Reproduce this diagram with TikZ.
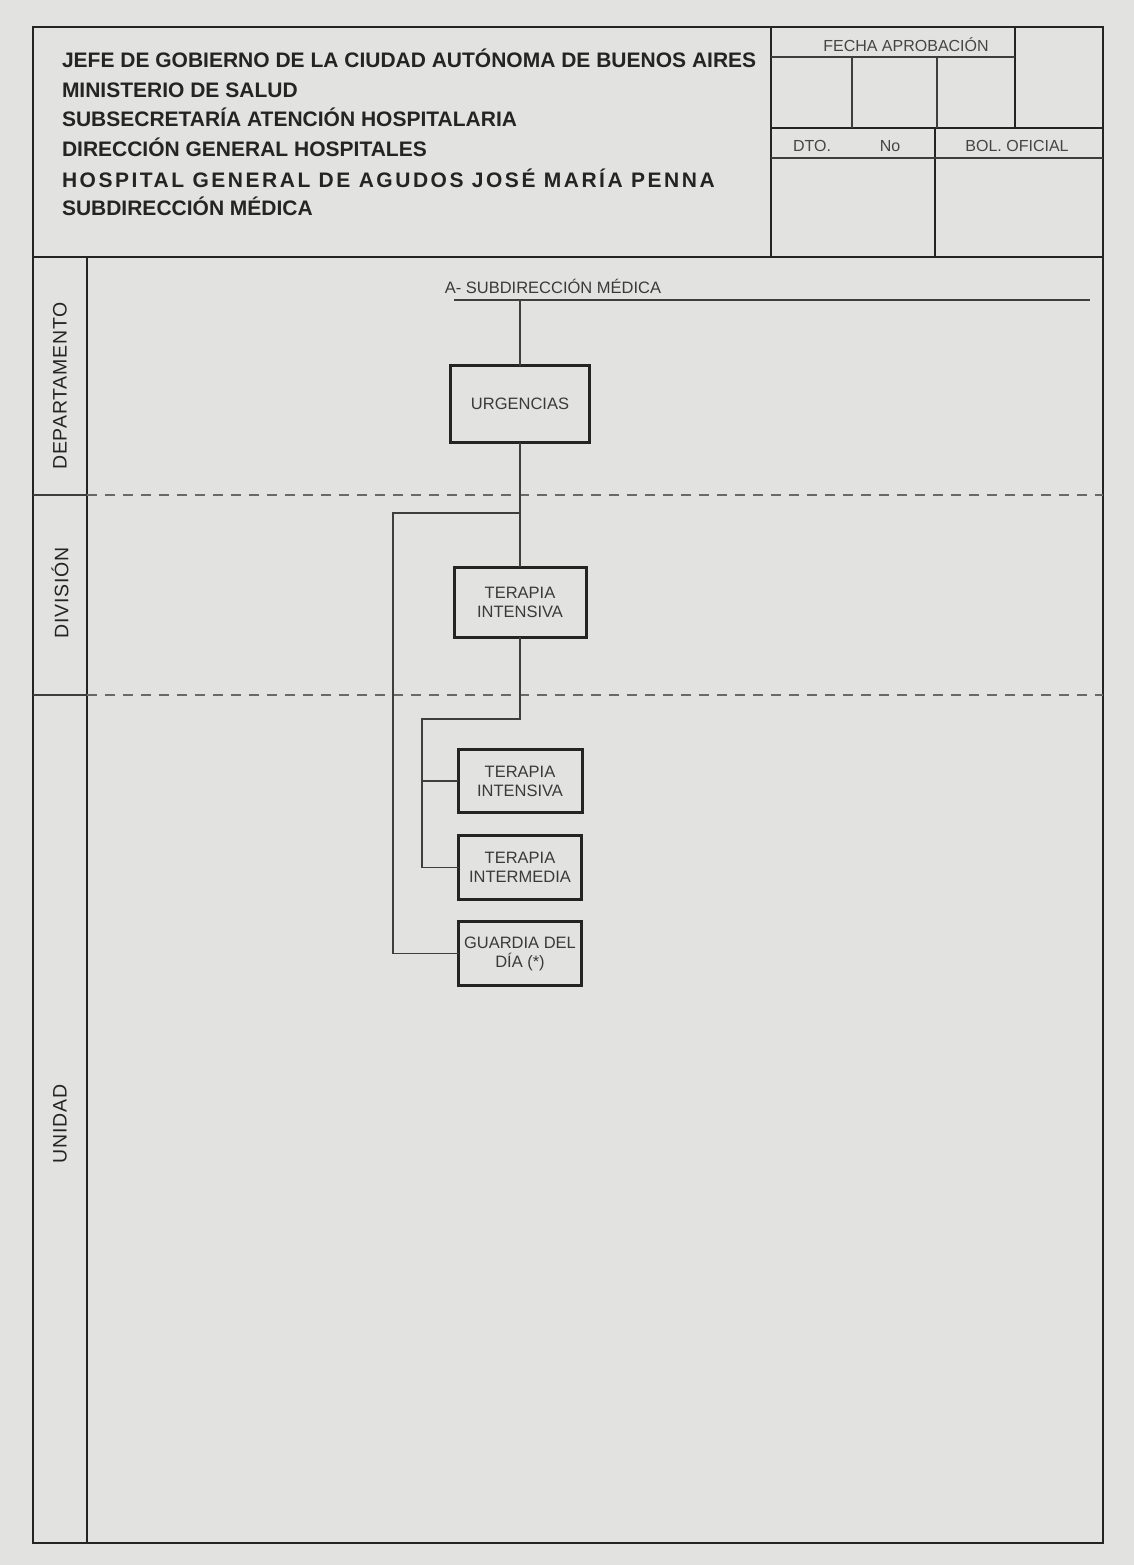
\documentclass[tikz,border=0pt]{standalone}
\usepackage{fontspec}
\setmainfont{Liberation Sans}
\usetikzlibrary{positioning}
\definecolor{papel}{RGB}{226,227,225}
\definecolor{tinta}{RGB}{36,36,36}
\definecolor{trazo}{RGB}{62,62,62}
\definecolor{gris}{RGB}{105,105,105}

\begin{document}
\begin{tikzpicture}[x=1pt, y=-1pt]
\tikzset{ inner sep=0pt, outer sep=0pt,
  marco/.style={draw=tinta, line width=2.6pt},
  fino/.style={draw=trazo, line width=1.3pt},
  guion/.style={draw=gris, line width=1.8pt, dash pattern=on 10pt off 8pt},
  conector/.style={draw=trazo, line width=1.4pt},
  caja/.style={draw=tinta, line width=3pt, fill=papel, align=center, text=tinta!90,
    font=\fontsize{16.5}{19}\selectfont},
  cabecera/.style={anchor=base west, text=tinta, font=\fontsize{21}{21}\selectfont\bfseries},
  cabecera ancha/.style={cabecera, font=\fontsize{21}{21}\selectfont\bfseries\addfontfeature{LetterSpace=12}},
  casilla/.style={text=tinta!85, font=\fontsize{16}{16}\selectfont},
  rotulo/.style={rotate=90, text=tinta, font=\fontsize{19.5}{20}\selectfont\addfontfeature{LetterSpace=4}},
  titulo/.style={text=tinta!90, font=\fontsize{16.5}{17}\selectfont},
}

\useasboundingbox (0,0) rectangle (1134,1565);
\fill [papel] (0,0) rectangle (1134,1565);

%\draw [lightgray, dashed](0,0) grid [step=50] (1134,1565);

\node [cabecera] (jefe) at (62,68) {JEFE DE GOBIERNO DE LA CIUDAD AUTÓNOMA DE BUENOS AIRES};
\node [cabecera] (min) at (62,98) {MINISTERIO DE SALUD};
\node [cabecera] (subsec) at (62,127) {SUBSECRETARÍA ATENCIÓN HOSPITALARIA};
\node [cabecera] (dir) at (62,157) {DIRECCIÓN GENERAL HOSPITALES};
\node [cabecera ancha] (hosp) at (62,187) {HOSPITAL GENERAL DE AGUDOS JOSÉ MARÍA PENNA};
\node [cabecera] (subdir) at (62,215) {SUBDIRECCIÓN MÉDICA};

\draw [marco] (33,27) rectangle (1103,1543);
\draw [marco] (33,257) -- (1103,257);
\draw [marco] (771,27) -- (771,257);
\draw [marco] (771,128) -- (1103,128);
\draw [marco] (1015,27) -- (1015,128);
\draw [marco] (935,128) -- (935,257);
\draw [fino] (771,57) -- (1015,57);
\draw [fino] (852,57) -- (852,128);
\draw [fino] (937,57) -- (937,128);
\draw [fino] (771,158) -- (1103,158);

\node [casilla] (fecha) at (906,45) {FECHA APROBACIÓN};
\node [casilla] (dto) at (812,146) {DTO.};
\node [casilla] (num) at (890,146) {No};
\node [casilla] (bol) at (1017,146) {BOL. OFICIAL};

\draw [marco] (87,257) -- (87,1543);
\draw [fino] (33,495) -- (87,495);
\draw [fino] (33,695) -- (87,695);
\draw [guion] (87,495) -- (1103,495);
\draw [guion] (87,695) -- (1103,695);

\node [rotulo] (dep) at (60,386) {DEPARTAMENTO};
\node [rotulo] (div) at (60,593) {DIVISIÓN};
\node [rotulo] (uni) at (60,1124) {UNIDAD};

\node [titulo] (sub) at (553,286) {A- SUBDIRECCIÓN MÉDICA};
\coordinate (raya0) at (454,300);
\coordinate (raya1) at (1090,300);
\coordinate (raiz) at (520,300);
\draw [conector] (raya0) -- (raya1);

\node [caja, minimum width=139pt, minimum height=77pt] (urg) at (520,404) {URGENCIAS};
\node [caja, minimum width=132pt, minimum height=70pt] (ti) at (520,602) {TERAPIA\\INTENSIVA};
\node [caja, minimum width=124pt, minimum height=63pt] (tint) at (520,781) {TERAPIA\\INTENSIVA};
\node [caja, minimum width=123pt, minimum height=64pt, below=23pt of tint] (tinm) {TERAPIA\\INTERMEDIA};
\node [caja, minimum width=123pt, minimum height=64pt, below=22pt of tinm] (gua) {GUARDIA DEL\\DÍA (*)};

\coordinate (rama1) at (520,513);
\coordinate (rama2) at (422,719);

\draw [conector] (raiz) -- (urg.north);
\draw [conector] (urg.south) -- (ti.north);
\draw [conector] (rama1) -- ++(-127,0) |- (gua.west);
\draw [conector] (ti.south) |- (rama2) |- (tint.west);
\draw [conector] (rama2) |- (tinm.west);

\end{tikzpicture}
\end{document}
